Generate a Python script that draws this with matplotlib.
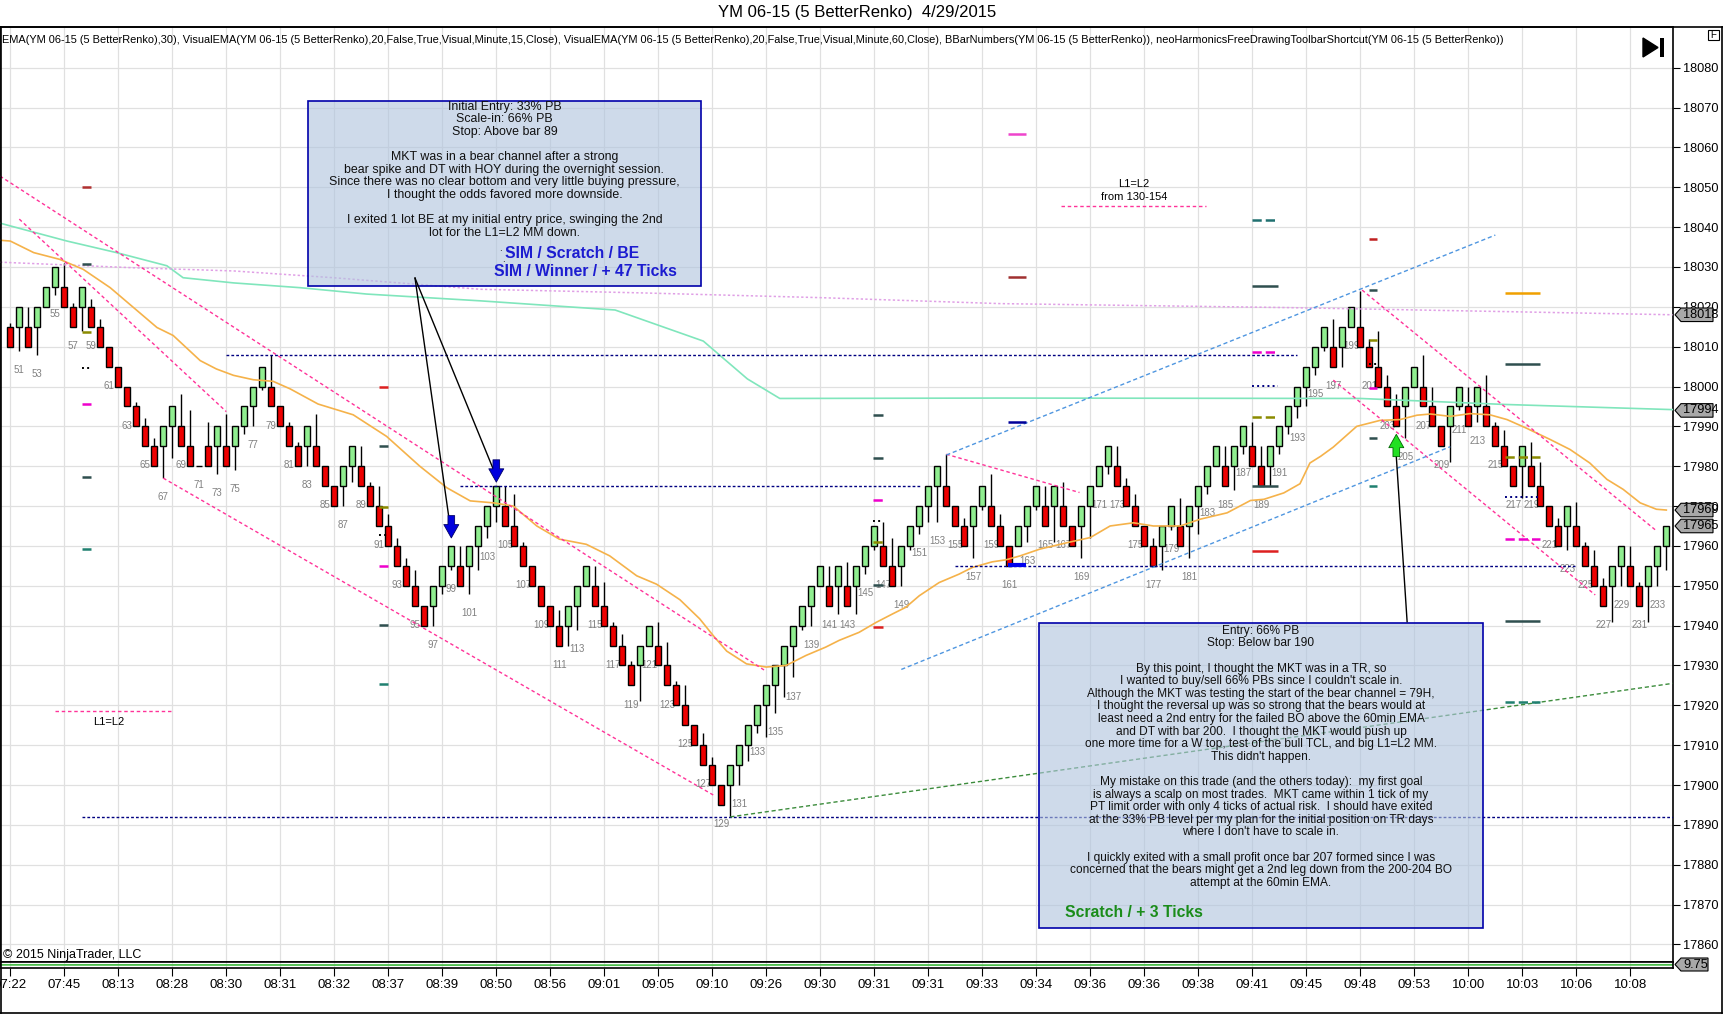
import numpy as np
import matplotlib
matplotlib.use('Agg')
import matplotlib.pyplot as plt
from matplotlib.patches import Rectangle, Polygon
from matplotlib.transforms import blended_transform_factory

plt.rcParams['font.family'] = ['Liberation Sans', 'DejaVu Sans']
NARROW = ['Liberation Sans Narrow', 'Liberation Sans', 'DejaVu Sans']

# ---- renko bricks (bar numbers 50..234) ----
bar_no = list(range(50, 235))
opens = [18015, 18015, 18015, 18015, 18020, 18025, 18025, 18020, 18020, 18020,
         18015, 18010, 18005, 18000, 17995, 17990, 17985, 17985, 17990, 17990,
         17985, 17980, 17985, 17985, 17985, 17985, 17990, 17995, 18000, 18000,
         17995, 17990, 17985, 17985, 17985, 17980, 17975, 17975, 17980, 17980,
         17975, 17970, 17965, 17960, 17955, 17950, 17945, 17945, 17950, 17955,
         17955, 17955, 17960, 17965, 17970, 17970, 17965, 17960, 17955, 17950,
         17945, 17940, 17940, 17945, 17950, 17950, 17945, 17940, 17935, 17930,
         17930, 17935, 17935, 17930, 17925, 17920, 17915, 17910, 17905, 17900,
         17900, 17905, 17910, 17915, 17920, 17925, 17930, 17935, 17940, 17945,
         17950, 17950, 17950, 17950, 17950, 17955, 17960, 17960, 17955, 17955,
         17960, 17965, 17970, 17975, 17975, 17970, 17965, 17965, 17970, 17970,
         17965, 17960, 17960, 17965, 17970, 17970, 17970, 17970, 17965, 17965,
         17970, 17975, 17980, 17980, 17975, 17970, 17965, 17960, 17960, 17965,
         17965, 17965, 17970, 17975, 17980, 17980, 17980, 17985, 17985, 17980,
         17980, 17985, 17990, 17995, 18000, 18005, 18010, 18010, 18010, 18015,
         18015, 18010, 18005, 18000, 17995, 17995, 18000, 18000, 17995, 17990,
         17990, 17995, 17995, 17995, 17995, 17990, 17985, 17980, 17980, 17980,
         17975, 17970, 17965, 17965, 17965, 17960, 17955, 17950, 17950, 17955,
         17955, 17950, 17950, 17955, 17960]
closes = [18010, 18020, 18010, 18020, 18025, 18030, 18020, 18015, 18025, 18015,
          18010, 18005, 18000, 17995, 17990, 17985, 17980, 17990, 17995, 17985,
          17980, 17980, 17980, 17990, 17980, 17990, 17995, 18000, 18005, 17995,
          17990, 17985, 17980, 17990, 17980, 17975, 17970, 17980, 17985, 17975,
          17970, 17965, 17960, 17955, 17950, 17945, 17940, 17950, 17955, 17960,
          17950, 17960, 17965, 17970, 17975, 17965, 17960, 17955, 17950, 17945,
          17940, 17935, 17945, 17950, 17955, 17945, 17940, 17935, 17930, 17925,
          17935, 17940, 17930, 17925, 17920, 17915, 17910, 17905, 17900, 17895,
          17905, 17910, 17915, 17920, 17925, 17930, 17935, 17940, 17945, 17950,
          17955, 17945, 17955, 17945, 17955, 17960, 17965, 17955, 17950, 17960,
          17965, 17970, 17975, 17980, 17970, 17965, 17960, 17970, 17975, 17965,
          17960, 17955, 17965, 17970, 17975, 17965, 17975, 17965, 17960, 17970,
          17975, 17980, 17985, 17975, 17970, 17965, 17960, 17955, 17965, 17970,
          17960, 17970, 17975, 17980, 17985, 17975, 17985, 17990, 17980, 17975,
          17985, 17990, 17995, 18000, 18005, 18010, 18015, 18005, 18015, 18020,
          18010, 18005, 18000, 17995, 17990, 18000, 18005, 17995, 17990, 17985,
          17995, 18000, 17990, 18000, 17990, 17985, 17980, 17975, 17985, 17975,
          17970, 17965, 17960, 17970, 17960, 17955, 17950, 17945, 17955, 17960,
          17950, 17945, 17955, 17960, 17965]
highs = [18016, 18020, 18020, 18020, 18025, 18030, 18031, 18021, 18025, 18022,
         18017, 18010, 18005, 18000, 17996, 17992, 17987, 17990, 17995, 17998,
         17994, 17980, 17991, 17990, 17993, 17990, 17995, 18000, 18005, 18008,
         17995, 17991, 17986, 17990, 17993, 17980, 17975, 17980, 17985, 17985,
         17976, 17975, 17968, 17962, 17957, 17954, 17945, 17950, 17955, 17960,
         17960, 17960, 17965, 17970, 17975, 17975, 17973, 17961, 17955, 17950,
         17945, 17944, 17945, 17950, 17955, 17955, 17951, 17941, 17938, 17931,
         17935, 17940, 17941, 17936, 17926, 17925, 17915, 17913, 17907, 17900,
         17905, 17910, 17915, 17920, 17925, 17930, 17935, 17940, 17945, 17950,
         17955, 17955, 17955, 17956, 17955, 17960, 17965, 17966, 17962, 17960,
         17965, 17970, 17975, 17980, 17983, 17970, 17967, 17970, 17975, 17978,
         17968, 17960, 17965, 17970, 17975, 17975, 17975, 17976, 17965, 17970,
         17975, 17980, 17985, 17985, 17977, 17973, 17965, 17962, 17965, 17970,
         17972, 17970, 17975, 17980, 17985, 17985, 17985, 17990, 17991, 17985,
         17985, 17990, 17995, 18000, 18005, 18010, 18015, 18017, 18015, 18020,
         18024, 18012, 18014, 18003, 17998, 18000, 18005, 18008, 18000, 17990,
         17995, 18000, 18000, 18000, 18003, 17991, 17989, 17980, 17985, 17986,
         17981, 17970, 17967, 17970, 17971, 17961, 17959, 17952, 17955, 17960,
         17960, 17951, 17955, 17960, 17965]
lows = [18010, 18009, 18010, 18008, 18020, 18023, 18020, 18015, 18014, 18015,
        18010, 18005, 18000, 17995, 17990, 17985, 17980, 17977, 17982, 17985,
        17980, 17980, 17980, 17978, 17980, 17979, 17988, 17990, 17999, 17995,
        17990, 17985, 17980, 17980, 17980, 17975, 17970, 17970, 17976, 17975,
        17970, 17965, 17960, 17955, 17950, 17945, 17940, 17940, 17948, 17954,
        17950, 17948, 17954, 17962, 17966, 17965, 17960, 17955, 17950, 17945,
        17940, 17935, 17935, 17939, 17950, 17945, 17940, 17935, 17930, 17925,
        17921, 17935, 17930, 17925, 17920, 17915, 17910, 17905, 17900, 17895,
        17892, 17900, 17906, 17913, 17912, 17918, 17922, 17927, 17939, 17940,
        17950, 17945, 17943, 17945, 17943, 17953, 17959, 17955, 17950, 17950,
        17959, 17963, 17966, 17966, 17970, 17965, 17960, 17957, 17969, 17965,
        17960, 17955, 17960, 17961, 17969, 17965, 17961, 17965, 17960, 17957,
        17962, 17975, 17978, 17975, 17970, 17965, 17960, 17955, 17954, 17964,
        17960, 17957, 17963, 17973, 17980, 17975, 17974, 17983, 17980, 17975,
        17975, 17983, 17988, 17992, 17995, 18003, 18009, 18005, 18005, 18015,
        18010, 18005, 18000, 17995, 17990, 17987, 18000, 17995, 17990, 17985,
        17981, 17994, 17990, 17991, 17990, 17985, 17980, 17975, 17972, 17975,
        17970, 17965, 17960, 17959, 17960, 17955, 17950, 17945, 17941, 17950,
        17950, 17945, 17941, 17950, 17954]

# ---- indicator lines (bar, price) ----
ema30_x = [48.86, 50.0, 52.6, 55.5, 58.1, 61.1, 63.7, 66.3, 68.1, 71.1, 72.9, 74.8, 77.0, 79.2,
           81.1, 84.2, 88.1, 91.8, 95.5, 98.5, 101.1, 103.7, 105.9, 108.5, 111.0, 114.0, 116.6,
           119.6, 121.8, 124.4, 126.6, 128.1, 129.6, 131.8, 134.0, 136.2, 138.4, 140.6, 142.1,
           144.3, 146.2, 148.0, 149.5, 151.0, 153.2, 155.4, 156.9, 159.1, 160.6, 162.2, 164.4,
           167.4, 170.0, 172.2, 174.8, 177.0, 180.0, 182.2, 185.2, 187.8, 189.3, 191.5, 193.3,
           194.4, 195.6, 197.0, 199.6, 202.2, 204.4, 206.3, 207.8, 210.0, 212.2, 214.4, 216.3,
           218.5, 221.1, 223.3, 225.5, 227.4, 229.2, 231.1, 232.9, 234.0]
ema30_y = [18036.7, 18036.5, 18033.6, 18031.9, 18029.4, 18024.8, 18019.8, 18014.8, 18012.8,
           18006.5, 18004.4, 18002.8, 18001.7, 18001.3, 17999.4, 17995.6, 17992.9, 17987.5,
           17980.0, 17974.6, 17971.3, 17970.8, 17970.0, 17965.0, 17961.7, 17960.4, 17957.5,
           17952.5, 17950.4, 17946.5, 17941.7, 17937.5, 17933.6, 17930.4, 17929.6, 17930.0,
           17932.5, 17934.6, 17936.3, 17938.3, 17940.8, 17942.9, 17944.6, 17947.5, 17950.8,
           17952.9, 17954.6, 17956.0, 17956.5, 17957.5, 17959.2, 17960.8, 17962.1, 17965.0,
           17965.8, 17965.0, 17965.0, 17966.7, 17968.3, 17971.4, 17971.7, 17973.3, 17975.6,
           17980.8, 17982.5, 17984.8, 17990.0, 17991.5, 17991.7, 17992.8, 17993.1, 17992.5,
           17993.2, 17992.9, 17991.7, 17989.5, 17986.7, 17984.2, 17980.8, 17976.7, 17974.2,
           17970.8, 17969.2, 17969.0]
ema60_x = [48.86, 50.0, 56.3, 61.8, 67.4, 69.2, 74.8, 82.2, 89.6, 102.2, 117.2, 127.0, 131.9,
           135.5, 160.0, 200.0, 216.0, 234.7]
ema60_y = [18041.0, 18040.3, 18036.5, 18033.6, 18030.3, 18027.3, 18026.0, 18024.8, 18023.2,
           18021.5, 18019.2, 18011.4, 18001.9, 17997.0, 17997.1, 17997.0, 17995.5, 17994.2]
ema15_x = [48.86, 63.7, 74.8, 85.9, 102.2, 120.0, 140.0, 160.0, 192.0, 216.0, 234.7]
ema15_y = [18031.2, 18029.8, 18029.0, 18027.3, 18024.4, 18023.5, 18022.3, 18020.8, 18019.8,
           18018.8, 18018.0]

# ---- drawn trend lines ((bar, price), (bar, price)) ----
pink_lines = [((48.86, 18052.8), (134.0, 17928.5)), ((51.0, 18042.0), (74.0, 17993.7)),
              ((67.0, 17977.0), (128.1, 17897.5)), ((154.0, 17983.0), (168.8, 17973.4)),
              ((200.2, 18024.2), (232.9, 17963.8)), ((197.0, 18001.6), (226.1, 17947.7)),
              ((166.7, 18045.4), (182.8, 18045.4)), ((55.0, 17918.6), (68.0, 17918.6))]
blue_lines = [((154.0, 17982.8), (215.0, 18038.0)), ((149.0, 17929.0), (210.0, 17984.9))]
navy_levels = [(74.0, 193.0, 18008), (100.0, 151.1, 17975), (58.0, 234.7, 17892),
               (155.0, 223.9, 17955)]
green_line = ((130.0, 17892.0), (234.7, 17925.5))

# short level dashes (bar from, bar to, price, colour, style, width)
level_marks = [
    (58.0, 59.0, 18050.1, '#b03030', '-', 1.8), (58.0, 59.0, 18030.8, '#2f4f4f', '-', 1.8),
    (58.0, 59.0, 18013.7, '#8b8b00', '--', 1.8), (58.0, 59.0, 18004.6, '#000000', ':', 1.4),
    (58.0, 59.0, 17995.5, '#ee00cc', '--', 1.8), (58.0, 59.0, 17977.3, '#2f4f4f', '-', 1.8),
    (58.0, 59.0, 17959.1, '#208070', '--', 1.8),
    (91.0, 92.0, 17999.9, '#dd2020', '-', 1.8), (91.0, 92.0, 17985.1, '#2f4f4f', '-', 1.8),
    (91.0, 92.0, 17969.8, '#8b8b00', '--', 1.8), (91.0, 92.0, 17962.7, '#000000', ':', 1.4),
    (91.0, 92.0, 17955.0, '#ee00cc', '--', 1.8), (91.0, 92.0, 17940.1, '#2f4f4f', '-', 1.8),
    (91.0, 92.0, 17925.3, '#208070', '--', 1.8),
    (145.9, 147.0, 17992.8, '#2f4f4f', '-', 1.8), (145.9, 147.0, 17982.1, '#2f4f4f', '-', 1.8),
    (145.9, 147.0, 17971.5, '#ee00cc', '--', 1.8), (145.9, 147.0, 17966.3, '#000000', ':', 1.4),
    (145.9, 147.0, 17961.1, '#8b8b00', '--', 1.8), (145.9, 147.0, 17950.2, '#2f4f4f', '-', 1.8),
    (145.9, 147.0, 17939.7, '#dd2020', '-', 1.8),
    (160.9, 162.9, 18063.4, '#ee44cc', '-', 1.8), (160.9, 162.9, 18027.4, '#a03030', '-', 1.8),
    (160.9, 162.9, 17991.2, '#000099', '-', 1.8), (160.9, 162.9, 17955.2, '#0000ee', '-', 3.0),
    (188.0, 190.9, 18041.8, '#207070', '--', 1.8), (188.0, 190.9, 18025.3, '#2f4f4f', '-', 1.8),
    (188.0, 190.9, 18008.7, '#ee00cc', '--', 1.8), (188.0, 190.9, 18000.1, '#000080', ':', 1.4),
    (188.0, 190.9, 17992.3, '#8b8b00', '--', 1.8), (188.0, 190.9, 17975.1, '#2f4f4f', '-', 1.8),
    (188.0, 190.9, 17958.8, '#dd2020', '-', 1.8),
    (201.0, 201.9, 18036.9, '#c02020', '-', 1.8), (201.0, 201.9, 18024.2, '#2f4f4f', '-', 1.8),
    (201.0, 201.9, 18011.7, '#8b8b00', '--', 1.8), (201.0, 201.9, 18005.6, '#000000', ':', 1.4),
    (201.0, 201.9, 17999.5, '#ee00cc', '-', 1.8), (201.0, 201.9, 17987.2, '#2f4f4f', '-', 1.8),
    (201.0, 201.9, 17975.0, '#208070', '--', 1.8),
    (216.1, 220.0, 18023.5, '#f0a000', '-', 1.8), (216.1, 220.0, 18005.6, '#2f4f4f', '-', 1.8),
    (216.1, 220.0, 17982.2, '#8b8b00', '--', 1.8), (216.1, 220.0, 17972.2, '#000080', ':', 1.4),
    (216.1, 220.0, 17961.7, '#ee00cc', '--', 1.8), (216.1, 220.0, 17941.2, '#2f4f4f', '-', 1.8),
    (216.1, 220.0, 17920.9, '#208070', '--', 1.8),
]

tick_bars = list(range(50, 235, 6))
tick_labels = ['07:22', '07:45', '08:13', '08:28', '08:30', '08:31', '08:32', '08:37', '08:39',
               '08:50', '08:56', '09:01', '09:05', '09:10', '09:26', '09:30', '09:31', '09:31',
               '09:33', '09:34', '09:36', '09:36', '09:38', '09:41', '09:45', '09:48', '09:53',
               '10:00', '10:03', '10:06', '10:08']
price_marks = [(18018, '18018'), (17994, '17994'), (17969, '17969'), (17965, '17965')]

box_left_lines = ['Initial Entry: 33% PB', 'Scale-in: 66% PB', 'Stop: Above bar 89', '',
                  'MKT was in a bear channel after a strong',
                  'bear spike and DT with HOY during the overnight session.',
                  'Since there was no clear bottom and very little buying pressure,',
                  'I thought the odds favored more downside.', '',
                  'I exited 1 lot BE at my initial entry price, swinging the 2nd',
                  'lot for the L1=L2 MM down.']
box_right_lines = ['Entry: 66% PB', 'Stop: Below bar 190', '',
                   'By this point, I thought the MKT was in a TR, so',
                   "I wanted to buy/sell 66% PBs since I couldn't scale in.",
                   'Although the MKT was testing the start of the bear channel = 79H,',
                   'I thought the reversal up was so strong that the bears would at',
                   'least need a 2nd entry for the failed BO above the 60min EMA',
                   'and DT with bar 200.  I thought the MKT would push up',
                   'one more time for a W top, test of the bull TCL, and big L1=L2 MM.',
                   "This didn't happen.", '',
                   'My mistake on this trade (and the others today):  my first goal',
                   'is always a scalp on most trades.  MKT came within 1 tick of my',
                   'PT limit order with only 4 ticks of actual risk.  I should have exited',
                   'at the 33% PB level per my plan for the initial position on TR days',
                   "where I don't have to scale in.", '',
                   'I quickly exited with a small profit once bar 207 formed since I was',
                   'concerned that the bears might get a 2nd leg down from the 200-204 BO',
                   'attempt at the 60min EMA.']
indicator_text = ('EMA(YM 06-15 (5 BetterRenko),30), VisualEMA(YM 06-15 (5 BetterRenko),20,False,'
                  'True,Visual,Minute,15,Close), VisualEMA(YM 06-15 (5 BetterRenko),20,False,True,'
                  'Visual,Minute,60,Close), BBarNumbers(YM 06-15 (5 BetterRenko)), '
                  'neoHarmonicsFreeDrawingToolbarShortcut(YM 06-15 (5 BetterRenko))')

# ---- figure ----
W, H = 1723, 1015
fig = plt.figure(figsize=(W / 100, H / 100), dpi=100)
fig.patch.set_facecolor('white')
ax = fig.add_axes([0, 1 - 961.7 / H, 1672.7 / W, (961.7 - 27.3) / H])
ax2 = fig.add_axes([0, 1 - 968 / H, 1672.7 / W, 6.3 / H])
ax.set_xlim(48.856, 234.71)
ax.set_ylim(17855.66, 18090.14)
ax2.set_xlim(48.856, 234.71)
ax2.set_ylim(0, 1)

grid_c = '#e0e0e0'
ax.set_xticks(tick_bars)
ax.set_yticks(range(17860, 18081, 10))
ax.grid(True, color=grid_c, lw=0.9, zorder=0)
ax.set_axisbelow(True)
ax.tick_params(axis='x', length=0, labelbottom=False)
ax.yaxis.tick_right()
ax.tick_params(axis='y', direction='out', length=5, width=0.8, pad=2.5, labelsize=9.2)
for lab in ax.get_yticklabels():
    lab.set_family(NARROW)
for sp in ax.spines.values():
    sp.set_color('black')
    sp.set_linewidth(1.2)

ax2.set_xticks(tick_bars)
ax2.set_xticklabels(tick_labels, family=NARROW, fontsize=9.5)
ax2.set_yticks([])
ax2.grid(True, axis='x', color=grid_c, lw=0.9)
ax2.tick_params(axis='x', direction='out', length=6, width=0.8, pad=2)
for sp in ax2.spines.values():
    sp.set_color('black')
    sp.set_linewidth(1.2)
ax2.plot([48.86, 120, 140, 160, 180, 234.7], [0.5, 0.45, 0.5, 0.45, 0.5, 0.5],
         color='#4cc04c', lw=1.3)

# ---- bricks ----
x = np.array(bar_no)
o = np.array(opens)
c = np.array(closes)
colors = np.where(c > o, '#90ee90', '#ee0000')
ax.vlines(x, lows, highs, color='black', lw=1.0, zorder=2)
ax.bar(x, c - o, bottom=o, width=0.66, color=colors, edgecolor='black', lw=1.0, zorder=3)

for n, lo in zip(bar_no, lows):
    if n % 2 == 1:
        ax.text(n, lo - 4.8, str(n), ha='center', va='center', fontsize=7, color='#808080',
                zorder=1.5)

# ---- indicators ----
ax.plot(ema60_x, ema60_y, color='#80e6bc', lw=1.2, zorder=4)
ax.plot(ema15_x, ema15_y, color='#e0a0e6', lw=1.1, ls=(0, (1.5, 1.5)), zorder=4)
ax.plot(ema30_x, ema30_y, color='#f5b24a', lw=1.2, zorder=4)

for (x0, y0), (x1, y1) in pink_lines:
    ax.plot([x0, x1], [y0, y1], color='#ff3399', lw=1.0, ls=(0, (2.5, 2)), zorder=4)
for (x0, y0), (x1, y1) in blue_lines:
    ax.plot([x0, x1], [y0, y1], color='#4f96e0', lw=1.0, ls=(0, (3, 2)), zorder=4)
for x0, x1, p in navy_levels:
    ax.plot([x0, x1], [p, p], color='#000080', lw=1.0, ls=(0, (2, 1.5)), zorder=4)
ax.plot([green_line[0][0], green_line[1][0]], [green_line[0][1], green_line[1][1]],
        color='#3c8c3c', lw=1.0, ls=(0, (3, 2)), zorder=4)
for x0, x1, p, col, st, w in level_marks:
    ax.plot([x0, x1], [p, p], color=col, ls=st, lw=w, zorder=4, solid_capstyle='butt')

# arrows
def block_arrow(xb, tail, tip, fc, ec):
    ax.annotate('', xy=(xb, tip), xytext=(xb, tail), zorder=6,
                arrowprops=dict(arrowstyle='simple,head_length=0.8,head_width=0.9,tail_width=0.4',
                                fc=fc, ec=ec, lw=0.6, mutation_scale=12, shrinkA=0, shrinkB=0))

block_arrow(99, 17967.6, 17962.0, '#0000dd', '#000066')
block_arrow(104, 17981.6, 17976.0, '#0000dd', '#000066')
block_arrow(204, 17982.4, 17988.0, '#22e022', '#006600')

# text boxes
for (bx0, by0, bx1, by1) in [(83.04, 18025.3, 126.77, 18071.6), (164.26, 17864.0, 213.67, 17940.6)]:
    ax.add_patch(Rectangle((bx0, by0), bx1 - bx0, by1 - by0, fc='#b0c4de', alpha=0.62,
                           ec='none', zorder=5))
    ax.add_patch(Rectangle((bx0, by0), bx1 - bx0, by1 - by0, fc='none', ec='#0000aa',
                           lw=1.2, zorder=5.1))

step = 12.6 / 3.985
for i, line in enumerate(box_left_lines):
    ax.text(104.9, 18070.2 - i * step, line, ha='center', va='center', fontsize=8.9,
            color='#101010', zorder=6)
for i, line in enumerate(box_right_lines):
    ax.text(188.96, 17938.7 - i * step, line, ha='center', va='center', fontsize=8.6,
            color='#101010', zorder=6)
ax.text(104.5, 18034.8, '.', ha='center', va='center', fontsize=7, zorder=6)
ax.text(104.75, 18032.0, '.', ha='center', va='center', fontsize=7, zorder=6)

ax.text(112.4, 18033.3, 'SIM / Scratch / BE', ha='center', va='center', fontsize=11.3,
        weight='bold', color='#1c1cd0', zorder=6)
ax.text(113.9, 18028.9, 'SIM / Winner / + 47 Ticks', ha='center', va='center', fontsize=11.3,
        weight='bold', color='#1c1cd0', zorder=6)
ax.text(174.9, 17868.1, 'Scratch / + 3 Ticks', ha='center', va='center', fontsize=11.3,
        weight='bold', color='#1a8c1a', zorder=6)

ax.text(174.85, 18050.9, 'L1=L2', ha='center', va='center', fontsize=8, zorder=6)
ax.text(174.85, 18047.6, 'from 130-154', ha='center', va='center', fontsize=8, zorder=6)
ax.text(60.9, 17915.8, 'L1=L2', ha='center', va='center', fontsize=8, zorder=6)

# pointer lines
for end in [(99, 17962.8), (104, 17977.4)]:
    ax.plot([94.97, end[0]], [18027.2, end[1]], color='black', lw=1.0, zorder=5.5)
ax.plot([205.2, 204.0], [17941.0, 17982.4], color='black', lw=1.0, zorder=5.5)

# ---- overlay in pixel space ----
ov = fig.add_axes([0, 0, 1, 1], zorder=10)
ov.set_xlim(0, W)
ov.set_ylim(H, 0)
ov.axis('off')
ov.plot([0.5, 0.5], [27.3, 1013], color='black', lw=1.2)
ov.plot([0, W], [27.3, 27.3], color='black', lw=1.2)
ov.plot([1721.7, 1721.7], [27.3, 1013], color='black', lw=1.2)
ov.plot([0, 1721.7], [1013, 1013], color='black', lw=1.2)
ov.add_patch(Polygon([(1643, 38), (1643, 57), (1658, 47.5)], closed=True, fc='black', ec='black'))
ov.add_patch(Rectangle((1659.5, 38), 4, 19, fc='black', ec='none'))
ov.add_patch(Rectangle((1707.7, 30), 11.6, 10, fc='white', ec='black', lw=0.8))
ov.text(1713.5, 35.2, 'F', ha='center', va='center', fontsize=7)

bt = blended_transform_factory(ov.transData, ax.transData)
for p, s in price_marks:
    ov.add_patch(Polygon([(1675, p), (1681, p + 1.7), (1713, p + 1.7), (1713, p - 1.7),
                          (1681, p - 1.7)], closed=True, fc='#a8a8a8', ec='black', lw=0.8,
                         transform=bt, clip_on=False))
    ov.text(1682.5, p, s, transform=bt, ha='left', va='center', fontsize=9.2, family=NARROW)
ov.add_patch(Polygon([(1675, 964.5), (1681, 958), (1708, 958), (1708, 971), (1681, 971)],
                     closed=True, fc='#a8a8a8', ec='black', lw=0.8))
ov.text(1683, 964.5, '9.75', ha='left', va='center', fontsize=9.2, family=NARROW)

fig.text(857 / W, 1 - 13 / H, 'YM 06-15 (5 BetterRenko)  4/29/2015', ha='center', va='center',
         fontsize=12, family=NARROW)
ind = fig.text(2 / W, 1 - 40 / H, indicator_text, ha='left', va='center', fontsize=9,
               family=NARROW)
fig.text(3 / W, 1 - 955 / H, '\u00a9 2015 NinjaTrader, LLC', ha='left', va='center',
         fontsize=9, family=NARROW)

# fit the indicator line to the width it has on the original
fig.canvas.draw()
w_now = ind.get_window_extent().width
ind.set_fontsize(9 * 1503 / w_now)

fig.savefig('out.png', dpi=100)
